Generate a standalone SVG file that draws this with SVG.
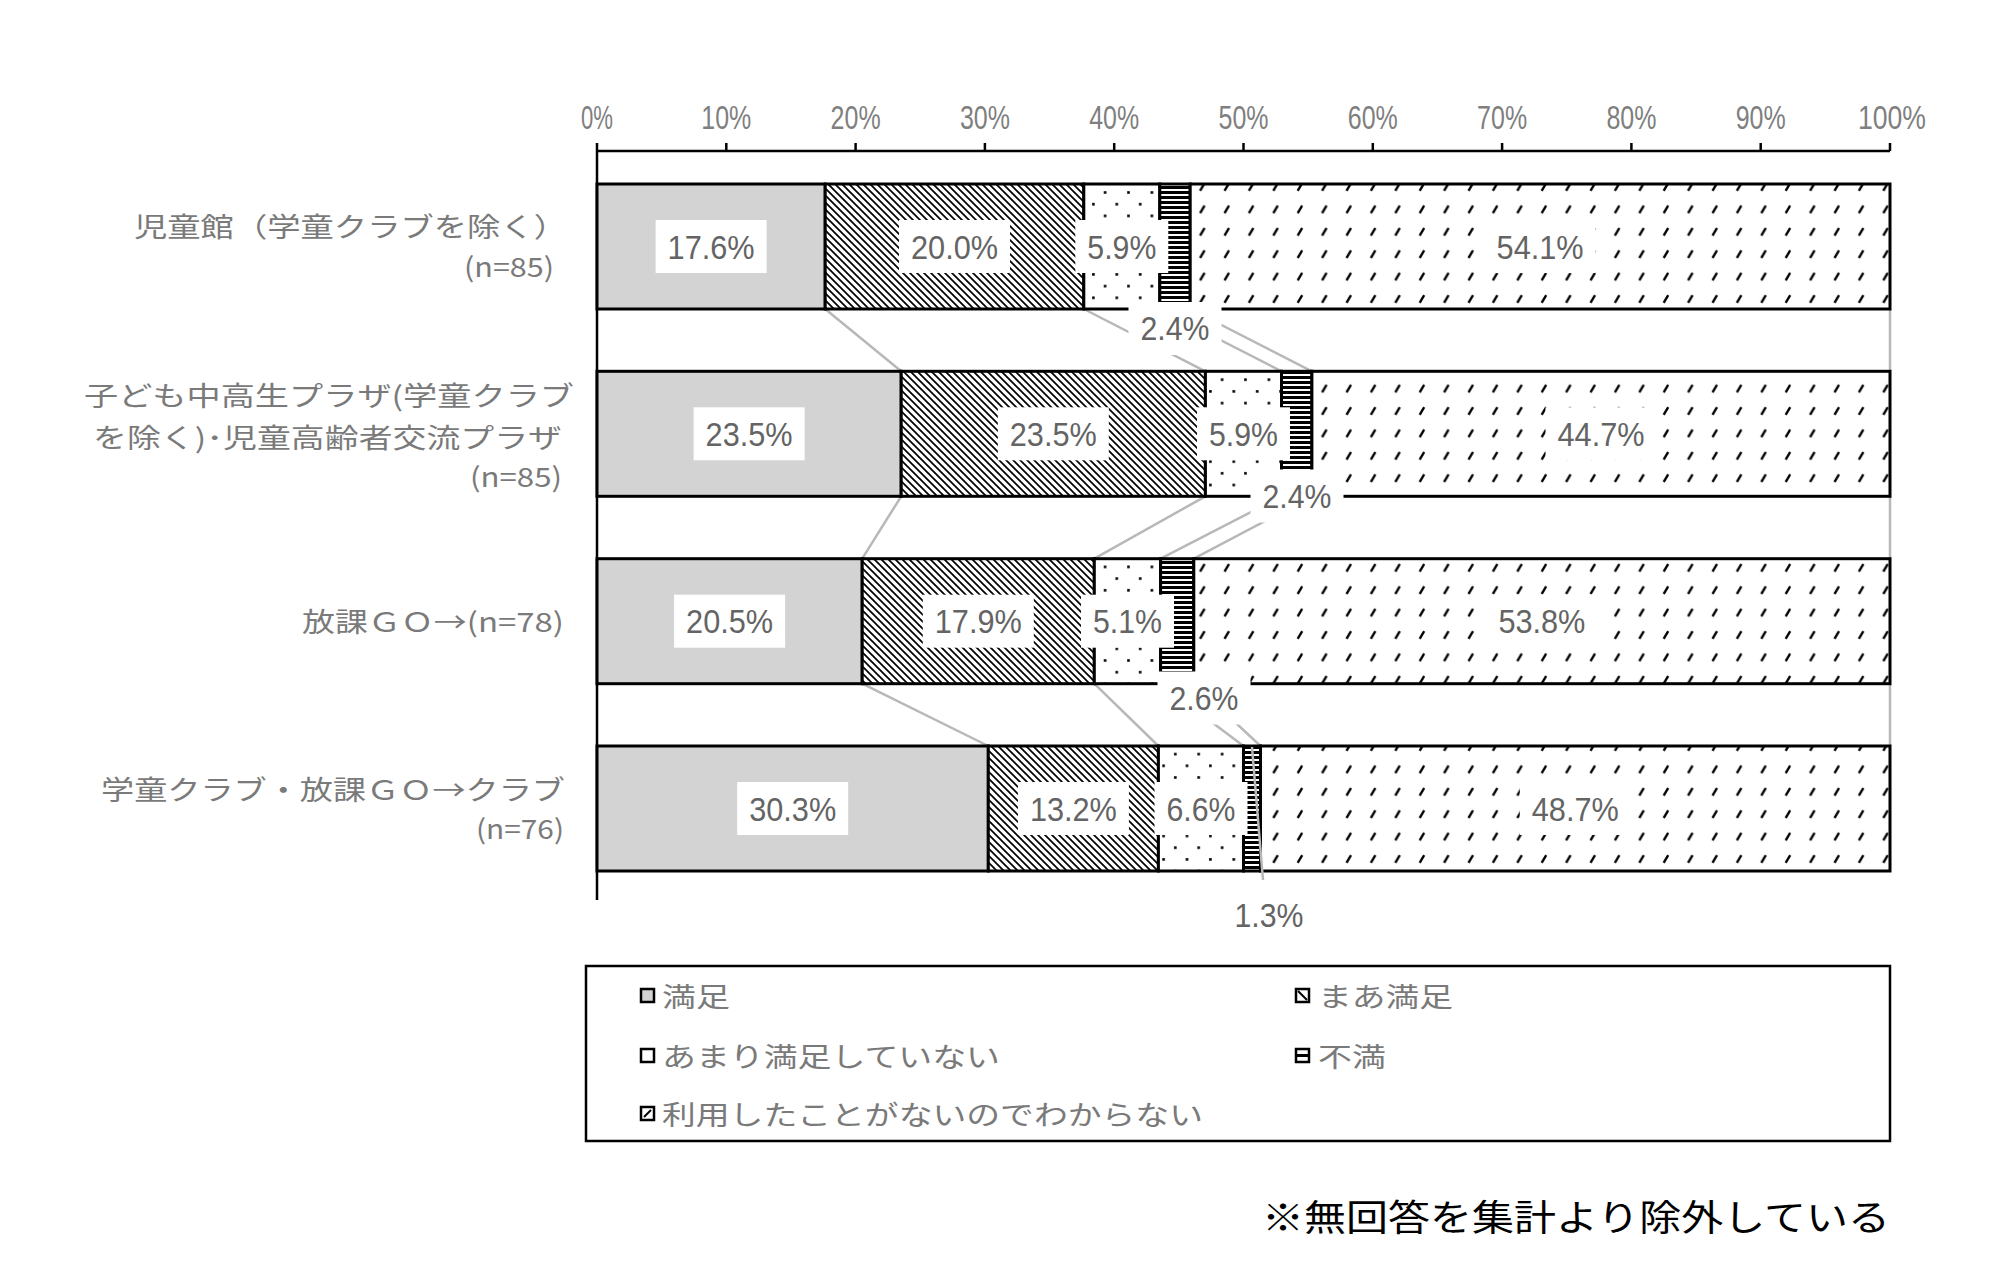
<svg xmlns="http://www.w3.org/2000/svg" width="1999" height="1267" viewBox="0 0 1999 1267">
<style>
.seg{stroke:#000;stroke-width:3}
.box{fill:#fff}
.lbl{font-family:'Liberation Sans',Arial,sans-serif;font-size:33px;fill:#646464;text-anchor:middle}
.tick{font-family:'Liberation Sans',Arial,sans-serif;font-size:33px;fill:#7f7f7f;text-anchor:middle}
.cat{font-family:'Noto Sans CJK JP',sans-serif;font-size:27px;fill:#7a7a7a}
.leg{font-family:'Noto Sans CJK JP',sans-serif;font-size:27px;fill:#7a7a7a}
.conn{stroke:#b8b8b8;stroke-width:2.5;fill:none}
.axis{stroke:#000;stroke-width:2.5;fill:none}
.mk{stroke:#000;stroke-width:2.5}
</style>
<defs>
<pattern id="pMama" width="7" height="7" patternUnits="userSpaceOnUse">
<rect width="7" height="7" fill="#fff"/>
<path d="M-1,-1 L8,8 M-1,6 L1,8 M6,-1 L8,1" stroke="#000" stroke-width="1.7"/>
</pattern>
<pattern id="pDots" width="23.4" height="23.4" patternUnits="userSpaceOnUse">
<rect width="23.4" height="23.4" fill="#fff"/>
<rect x="4" y="4" width="2.6" height="2.6" fill="#000"/>
<rect x="15.7" y="15.7" width="2.6" height="2.6" fill="#000"/>
</pattern>
<pattern id="pStripe" width="10" height="5" patternUnits="userSpaceOnUse">
<rect width="10" height="5" fill="#fff"/>
<rect y="1" width="10" height="3" fill="#000"/>
</pattern>
<pattern id="pSlash" width="24.4" height="22.4" patternUnits="userSpaceOnUse">
<rect width="24.4" height="22.4" fill="#fff"/>
<path d="M4.5,11.5 L9,4" stroke="#000" stroke-width="2.4"/>
</pattern>
</defs>
<rect width="1999" height="1267" fill="#fff"/>

<g id="axis">
<path class="axis" d="M597,151 H1890 M597,143 V900 M726.3,143 V151 M855.6,143 V151 M984.9,143 V151 M1114.2,143 V151 M1243.5,143 V151 M1372.8,143 V151 M1502.1,143 V151 M1631.4,143 V151 M1760.7,143 V151 M1890,143 V151"/>
<text class="tick" x="597" y="129" textLength="32" lengthAdjust="spacingAndGlyphs">0%</text>
<text class="tick" x="726.3" y="129" textLength="50" lengthAdjust="spacingAndGlyphs">10%</text>
<text class="tick" x="855.6" y="129" textLength="50" lengthAdjust="spacingAndGlyphs">20%</text>
<text class="tick" x="984.9" y="129" textLength="50" lengthAdjust="spacingAndGlyphs">30%</text>
<text class="tick" x="1114.2" y="129" textLength="50" lengthAdjust="spacingAndGlyphs">40%</text>
<text class="tick" x="1243.5" y="129" textLength="50" lengthAdjust="spacingAndGlyphs">50%</text>
<text class="tick" x="1372.8" y="129" textLength="50" lengthAdjust="spacingAndGlyphs">60%</text>
<text class="tick" x="1502.1" y="129" textLength="50" lengthAdjust="spacingAndGlyphs">70%</text>
<text class="tick" x="1631.4" y="129" textLength="50" lengthAdjust="spacingAndGlyphs">80%</text>
<text class="tick" x="1760.7" y="129" textLength="50" lengthAdjust="spacingAndGlyphs">90%</text>
<text class="tick" x="1892" y="129" textLength="68" lengthAdjust="spacingAndGlyphs">100%</text>
</g>

<g id="connectors">
<path class="conn" d="M825.2,309 L901.2,371.3 M1083.8,309 L1205.4,371.3 M1159.8,309 L1281.5,371.3 M1190.2,309 L1311.9,371.3 M1890,309 V371.3"/>
<path class="conn" d="M901.2,496.3 L862.2,558.7 M1205.4,496.3 L1094.3,558.7 M1281.5,496.3 L1160.6,558.7 M1311.9,496.3 L1193.8,558.7 M1890,496.3 V558.7"/>
<path class="conn" d="M862.2,683.7 L988.3,746 M1094.3,683.7 L1158.4,746 M1160.6,683.7 L1243.5,746 M1193.8,683.7 L1260.5,746 M1890,683.7 V746"/>
</g>

<g id="bar1">
<text class="cat" x="134" y="237" textLength="433" lengthAdjust="spacingAndGlyphs">児童館（学童クラブを除く）</text>
<text class="cat" x="464" y="277" textLength="90" lengthAdjust="spacingAndGlyphs">(n=85)</text>
<rect class="seg" x="597" y="184" width="228.2" height="125" fill="#d3d3d3"/>
<rect class="seg" x="825.2" y="184" width="258.6" height="125" fill="url(#pMama)"/>
<rect class="seg" x="1083.8" y="184" width="76" height="125" fill="url(#pDots)"/>
<rect class="seg" x="1159.8" y="184" width="30.4" height="125" fill="url(#pStripe)"/>
<rect class="seg" x="1190.2" y="184" width="699.8" height="125" fill="url(#pSlash)"/>
<rect class="box" x="655.6" y="220" width="111" height="53"/><text class="lbl" x="711.1" y="258.5" textLength="87" lengthAdjust="spacingAndGlyphs">17.6%</text>
<rect class="box" x="899" y="220" width="111" height="53"/><text class="lbl" x="954.5" y="258.5" textLength="87" lengthAdjust="spacingAndGlyphs">20.0%</text>
<rect class="box" x="1075.3" y="220" width="93" height="53"/><text class="lbl" x="1121.8" y="258.5" textLength="69" lengthAdjust="spacingAndGlyphs">5.9%</text>
<rect class="box" x="1484.6" y="220" width="111" height="53"/><text class="lbl" x="1540.1" y="258.5" textLength="87" lengthAdjust="spacingAndGlyphs">54.1%</text>
<rect class="box" x="1128.5" y="302" width="93" height="53"/><text class="lbl" x="1175" y="340" textLength="69" lengthAdjust="spacingAndGlyphs">2.4%</text>
</g>

<g id="bar2">
<text class="cat" x="84" y="406" textLength="490" lengthAdjust="spacingAndGlyphs">子ども中高生プラザ(学童クラブ</text>
<text class="cat" x="93" y="448" textLength="469" lengthAdjust="spacingAndGlyphs">を除く)･児童高齢者交流プラザ</text>
<text class="cat" x="470" y="487" textLength="92" lengthAdjust="spacingAndGlyphs">(n=85)</text>
<rect class="seg" x="597" y="371.3" width="304.2" height="125" fill="#d3d3d3"/>
<rect class="seg" x="901.2" y="371.3" width="304.2" height="125" fill="url(#pMama)"/>
<rect class="seg" x="1205.4" y="371.3" width="76.1" height="125" fill="url(#pDots)"/>
<rect class="seg" x="1281.5" y="371.3" width="30.4" height="125" fill="url(#pStripe)"/>
<rect class="seg" x="1311.9" y="371.3" width="578.1" height="125" fill="url(#pSlash)"/>
<rect class="box" x="693.6" y="407.3" width="111" height="53"/><text class="lbl" x="749.1" y="445.8" textLength="87" lengthAdjust="spacingAndGlyphs">23.5%</text>
<rect class="box" x="997.8" y="407.3" width="111" height="53"/><text class="lbl" x="1053.3" y="445.8" textLength="87" lengthAdjust="spacingAndGlyphs">23.5%</text>
<rect class="box" x="1197" y="407.3" width="93" height="53"/><text class="lbl" x="1243.5" y="445.8" textLength="69" lengthAdjust="spacingAndGlyphs">5.9%</text>
<rect class="box" x="1545.5" y="407.3" width="111" height="53"/><text class="lbl" x="1601" y="445.8" textLength="87" lengthAdjust="spacingAndGlyphs">44.7%</text>
<rect class="box" x="1250.5" y="469.5" width="93" height="53"/><text class="lbl" x="1297" y="508" textLength="69" lengthAdjust="spacingAndGlyphs">2.4%</text>
</g>

<g id="bar3">
<text class="cat" x="302" y="632" textLength="262" lengthAdjust="spacingAndGlyphs">放課ＧＯ→(n=78)</text>
<rect class="seg" x="597" y="558.7" width="265.2" height="125" fill="#d3d3d3"/>
<rect class="seg" x="862.2" y="558.7" width="232.1" height="125" fill="url(#pMama)"/>
<rect class="seg" x="1094.3" y="558.7" width="66.3" height="125" fill="url(#pDots)"/>
<rect class="seg" x="1160.6" y="558.7" width="33.2" height="125" fill="url(#pStripe)"/>
<rect class="seg" x="1193.8" y="558.7" width="696.2" height="125" fill="url(#pSlash)"/>
<rect class="box" x="674.1" y="594.7" width="111" height="53"/><text class="lbl" x="729.6" y="633.2" textLength="87" lengthAdjust="spacingAndGlyphs">20.5%</text>
<rect class="box" x="922.8" y="594.7" width="111" height="53"/><text class="lbl" x="978.3" y="633.2" textLength="87" lengthAdjust="spacingAndGlyphs">17.9%</text>
<rect class="box" x="1081" y="594.7" width="93" height="53"/><text class="lbl" x="1127.5" y="633.2" textLength="69" lengthAdjust="spacingAndGlyphs">5.1%</text>
<rect class="box" x="1486.4" y="594.7" width="111" height="53"/><text class="lbl" x="1541.9" y="633.2" textLength="87" lengthAdjust="spacingAndGlyphs">53.8%</text>
<rect class="box" x="1157.5" y="671.5" width="93" height="53"/><text class="lbl" x="1204" y="710" textLength="69" lengthAdjust="spacingAndGlyphs">2.6%</text>
</g>

<g id="bar4">
<text class="cat" x="101" y="800" textLength="464" lengthAdjust="spacingAndGlyphs">学童クラブ・放課ＧＯ→クラブ</text>
<text class="cat" x="476" y="839" textLength="88" lengthAdjust="spacingAndGlyphs">(n=76)</text>
<rect class="seg" x="597" y="746" width="391.3" height="125" fill="#d3d3d3"/>
<rect class="seg" x="988.3" y="746" width="170.1" height="125" fill="url(#pMama)"/>
<rect class="seg" x="1158.4" y="746" width="85.1" height="125" fill="url(#pDots)"/>
<rect class="seg" x="1243.5" y="746" width="17" height="125" fill="url(#pStripe)"/>
<rect class="seg" x="1260.5" y="746" width="629.5" height="125" fill="url(#pSlash)"/>
<rect class="box" x="737.2" y="782" width="111" height="53"/><text class="lbl" x="792.7" y="820.5" textLength="87" lengthAdjust="spacingAndGlyphs">30.3%</text>
<rect class="box" x="1017.9" y="782" width="111" height="53"/><text class="lbl" x="1073.4" y="820.5" textLength="87" lengthAdjust="spacingAndGlyphs">13.2%</text>
<rect class="box" x="1154.5" y="782" width="93" height="53"/><text class="lbl" x="1201" y="820.5" textLength="69" lengthAdjust="spacingAndGlyphs">6.6%</text>
<rect class="box" x="1519.8" y="782" width="111" height="53"/><text class="lbl" x="1575.3" y="820.5" textLength="87" lengthAdjust="spacingAndGlyphs">48.7%</text>
<rect class="box" x="1222.5" y="888.5" width="93" height="53"/><text class="lbl" x="1269" y="927" textLength="69" lengthAdjust="spacingAndGlyphs">1.3%</text>
</g>

<g id="leader-lines">
<path class="conn" d="M1252,747 L1263,880"/>
</g>

<g id="legend">
<rect x="586" y="966" width="1304" height="175" fill="#fff" stroke="#000" stroke-width="2.5"/>
<rect class="mk" x="641" y="989" width="13" height="13" fill="#d3d3d3"/>
<text class="leg" x="662" y="1007" textLength="68" lengthAdjust="spacingAndGlyphs">満足</text>
<rect class="mk" x="1296" y="989" width="13" height="13" fill="#fff"/>
<path d="M1298,991 L1307,1000" stroke="#000" stroke-width="2"/>
<text class="leg" x="1318" y="1007" textLength="135" lengthAdjust="spacingAndGlyphs">まあ満足</text>
<rect class="mk" x="641" y="1049" width="13" height="13" fill="#fff"/>
<text class="leg" x="662" y="1067" textLength="338" lengthAdjust="spacingAndGlyphs">あまり満足していない</text>
<rect class="mk" x="1296" y="1049" width="13" height="13" fill="#fff"/>
<path d="M1297,1055.5 H1308" stroke="#000" stroke-width="3"/>
<text class="leg" x="1318" y="1067" textLength="68" lengthAdjust="spacingAndGlyphs">不満</text>
<rect class="mk" x="641" y="1107" width="13" height="13" fill="#fff"/>
<path d="M644,1117 L651,1110" stroke="#000" stroke-width="2"/>
<text class="leg" x="662" y="1125" textLength="541" lengthAdjust="spacingAndGlyphs">利用したことがないのでわからない</text>
</g>

<g id="footnote">
<text x="1262" y="1231" font-family="'Noto Sans CJK JP',sans-serif" font-size="36" fill="#000" textLength="628" lengthAdjust="spacingAndGlyphs">※無回答を集計より除外している</text>
</g>
</svg>
